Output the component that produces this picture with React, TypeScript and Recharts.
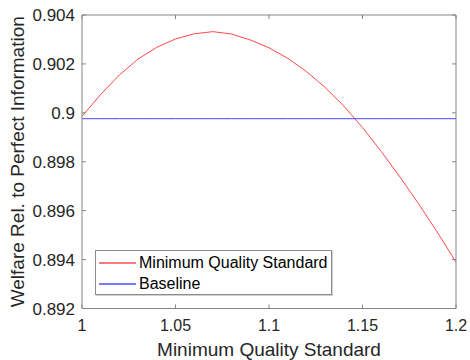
import React from 'react';
import { LineChart, Line, XAxis, YAxis, Legend } from 'recharts';

const standards = [1.0, 1.01, 1.02, 1.03, 1.04, 1.05, 1.06, 1.07, 1.08, 1.09, 1.1, 1.11, 1.12, 1.13, 1.14, 1.15, 1.16, 1.17, 1.18, 1.19, 1.2];
const mqsWelfare = [0.89986, 0.90075, 0.90155, 0.9022, 0.90268, 0.90302, 0.90323, 0.90332, 0.90322, 0.90298, 0.90266, 0.90223, 0.90169, 0.90104, 0.90028, 0.8994, 0.89842, 0.89738, 0.89628, 0.89512, 0.8939];
const baselineWelfare = [0.89976, 0.89976, 0.89976, 0.89976, 0.89976, 0.89976, 0.89976, 0.89976, 0.89976, 0.89976, 0.89976, 0.89976, 0.89976, 0.89976, 0.89976, 0.89976, 0.89976, 0.89976, 0.89976, 0.89976, 0.89976];
const xTicks = [1, 1.05, 1.1, 1.15, 1.2];
const yTicks = [0.892, 0.894, 0.896, 0.898, 0.9, 0.902, 0.904];
const seriesNames = ['Minimum Quality Standard', 'Baseline'];

const data = standards.map((x, i) => ({ x, mqs: mqsWelfare[i], base: baselineWelfare[i] }));

const FONT = '"Liberation Sans", Arial, Helvetica, sans-serif';
const AXIS = '#858585';
const TEXT = '#262626';
const RED = '#ff4848';
const BLUE = '#4848ff';

const XLabel = (props: any) => {
  const vb = props.viewBox || {};
  return (
    <text x={vb.x + vb.width / 2} y={vb.y + 47.5} textAnchor="middle" fontFamily={FONT} fontSize={19} fill={TEXT}>
      Minimum Quality Standard
    </text>
  );
};

const YLabel = (props: any) => {
  const vb = props.viewBox || {};
  const cx = 24;
  const cy = vb.y + vb.height / 2;
  return (
    <text x={cx} y={cy} textAnchor="middle" transform={`rotate(-90 ${cx} ${cy})`} fontFamily={FONT} fontSize={19} fill={TEXT}>
      Welfare Rel. to Perfect Information
    </text>
  );
};

const LegendBox = () => {
  const colors = ['#ff7a7a', '#7a7aff'];
  return (
    <div style={{ width: 237, height: 45, boxSizing: 'border-box', border: '1px solid #8c8c8c', boxShadow: '1px 1px 0 #d0d0d0', background: '#fff', position: 'relative', fontFamily: FONT, fontSize: 16, color: '#000' }}>
      {seriesNames.map((n, i) => (
        <div key={n} style={{ position: 'absolute', left: 0, top: 12 + i * 21 - 10, height: 20, width: '100%' }}>
          <div style={{ position: 'absolute', left: 3, top: 9, width: 37, height: 0, borderTop: `2px solid ${colors[i]}` }} />
          <div style={{ position: 'absolute', left: 43, top: 0, lineHeight: '20px', whiteSpace: 'nowrap' }}>{n}</div>
        </div>
      ))}
    </div>
  );
};

export default function App() {
  return (
    <div style={{ position: 'absolute', left: 0, top: 0, width: 470, height: 360, overflow: 'hidden' }}>
      <LineChart width={470} height={360} data={data} margin={{ top: 14, right: 13, left: 0, bottom: 0 }}>
        <XAxis
          dataKey="x"
          type="number"
          domain={[1, 1.2]}
          ticks={xTicks}
          allowDataOverflow
          height={51.5}
          stroke={AXIS}
          tickSize={-4}
          tickMargin={15.5}
          tick={{ fill: TEXT, fontSize: 16, fontFamily: FONT }}
          label={<XLabel />}
        />
        <XAxis
          xAxisId="top"
          orientation="top"
          dataKey="x"
          type="number"
          domain={[1, 1.2]}
          ticks={xTicks}
          allowDataOverflow
          height={1}
          stroke={AXIS}
          tickSize={-4}
          tickMargin={0}
          tickFormatter={() => ''}
        />
        <YAxis
          type="number"
          domain={[0.892, 0.904]}
          ticks={yTicks}
          allowDataOverflow
          width={82}
          stroke={AXIS}
          tickSize={-4}
          tickMargin={11}
          tick={{ fill: TEXT, fontSize: 17, fontFamily: FONT }}
          label={<YLabel />}
        />
        <YAxis
          yAxisId="right"
          orientation="right"
          type="number"
          domain={[0.892, 0.904]}
          ticks={yTicks}
          allowDataOverflow
          width={1}
          stroke={AXIS}
          tickSize={-4}
          tickMargin={0}
          tickFormatter={() => ''}
        />
        <Legend
          layout="vertical"
          align="center"
          verticalAlign="middle"
          content={<LegendBox />}
          wrapperStyle={{ left: 95, top: 250, width: 237, height: 45 }}
        />
        <Line type="linear" dataKey="mqs" name={seriesNames[0]} stroke={RED} strokeWidth={1} dot={false} isAnimationActive={false} />
        <Line type="linear" dataKey="base" name={seriesNames[1]} stroke={BLUE} strokeWidth={1} dot={false} isAnimationActive={false} />
      </LineChart>
    </div>
  );
}
